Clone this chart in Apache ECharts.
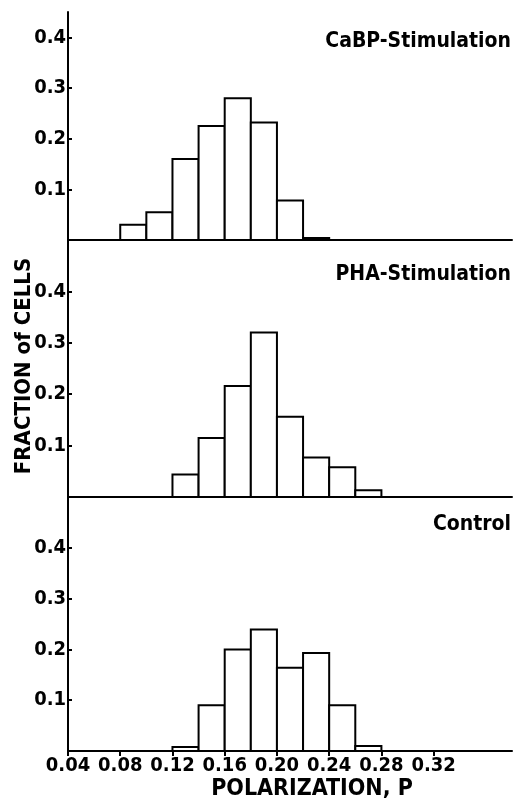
<!DOCTYPE html>
<html>
<head>
<meta charset="utf-8">
<script src="https://cdn.jsdelivr.net/npm/echarts@6/dist/echarts.min.js"></script>
<style>
html,body{margin:0;padding:0;background:#fff;}
#c{width:515px;height:801px;}
</style>
</head>
<body>
<div id="c"></div>
<script>
// ---- data ----
const binStarts = [0.08, 0.10, 0.12, 0.14, 0.16, 0.18, 0.20, 0.22, 0.24, 0.26];
const binWidth = 0.02;
const cabpValues    = [0.030, 0.055, 0.160, 0.225, 0.280, 0.232, 0.078, 0.004, null, null];
const phaValues     = [null, null, 0.044, 0.115, 0.216, 0.320, 0.156, 0.077, 0.058, 0.013];
const controlValues = [null, null, 0.008, 0.090, 0.200, 0.239, 0.164, 0.193, 0.090, 0.010];
const panelTitles = ['CaBP-Stimulation', 'PHA-Stimulation', 'Control'];
const xTickValues = [0.04, 0.08, 0.12, 0.16, 0.20, 0.24, 0.28, 0.32];
const yTickValues = [0.1, 0.2, 0.3, 0.4];
const xAxisTitle = 'POLARIZATION, P';
const yAxisTitle = 'FRACTION of CELLS';

const FONT = "'DejaVu Sans Condensed', 'Liberation Sans Narrow', 'DejaVu Sans', sans-serif";

function toData(vals) {
  const out = [];
  vals.forEach((v, i) => { if (v !== null) out.push([binStarts[i], binStarts[i] + binWidth, v]); });
  return out;
}

function renderItem(params, api) {
  const x0 = api.value(0), x1 = api.value(1), v = api.value(2);
  const pTop = api.coord([x0, v]);
  const pBot = api.coord([x1, 0]);
  return {
    type: 'rect',
    shape: { x: pTop[0], y: pTop[1], width: pBot[0] - pTop[0], height: pBot[1] - pTop[1] },
    style: { fill: '#fff', stroke: '#000', lineWidth: 2 }
  };
}

const grids = [
  { left: 68, right: 3, top: 12, height: 228 },
  { left: 68, right: 3, top: 240, height: 257 },
  { left: 68, right: 3, top: 497, height: 254 }
];
const yMax = [0.45, 0.5, 0.5];
const seriesVals = [cabpValues, phaValues, controlValues];
const titleTops = [31, 264, 514];

const option = {
  backgroundColor: '#fff',
  animation: false,
  grid: grids,
  title: panelTitles.map((t, i) => ({
    text: t, right: 4, top: titleTops[i], padding: 0,
    textStyle: { fontFamily: FONT, fontWeight: 'bold', fontSize: 21, color: '#000' }
  })),
  xAxis: grids.map((g, i) => ({
    type: 'value', gridIndex: i, min: 0.04, max: 0.38,
    axisLine: { show: true, onZero: false, lineStyle: { color: '#000', width: 2 } },
    axisTick: i === 2 ? { show: true, inside: false, length: 5, lineStyle: { color: '#000', width: 2 }, customValues: xTickValues } : { show: false },
    axisLabel: i === 2 ? {
      show: true, customValues: xTickValues, margin: 5,
      formatter: v => Number(v).toFixed(2),
      fontFamily: FONT, fontWeight: 'bold', fontSize: 20, color: '#000'
    } : { show: false },
    splitLine: { show: false }
  })),
  yAxis: grids.map((g, i) => ({
    type: 'value', gridIndex: i, min: 0, max: yMax[i],
    axisLine: { show: true, lineStyle: { color: '#000', width: 2 } },
    axisTick: { show: true, inside: true, length: 4, lineStyle: { color: '#000', width: 2 }, customValues: yTickValues },
    axisLabel: {
      show: true, customValues: yTickValues, margin: 2,
      formatter: v => Number(v).toFixed(1),
      fontFamily: FONT, fontWeight: 'bold', fontSize: 20, color: '#000'
    },
    splitLine: { show: false }
  })),
  series: seriesVals.map((vals, i) => ({
    type: 'custom', xAxisIndex: i, yAxisIndex: i,
    renderItem: renderItem,
    data: toData(vals),
    encode: { x: [0, 1], y: 2 },
    clip: false
  })),
  graphic: [
    {
      type: 'text', x: 312, y: 789,
      style: { text: xAxisTitle, textAlign: 'center', textVerticalAlign: 'middle',
               font: "bold 23px " + FONT, fill: '#000' }
    },
    {
      type: 'text', x: 24, y: 366, rotation: Math.PI / 2,
      style: { text: yAxisTitle, textAlign: 'center', textVerticalAlign: 'middle',
               font: "bold 22px " + FONT, fill: '#000' }
    }
  ]
};

const chart = echarts.init(document.getElementById('c'), null, { renderer: 'canvas' });
chart.setOption(option);
</script>
</body>
</html>
